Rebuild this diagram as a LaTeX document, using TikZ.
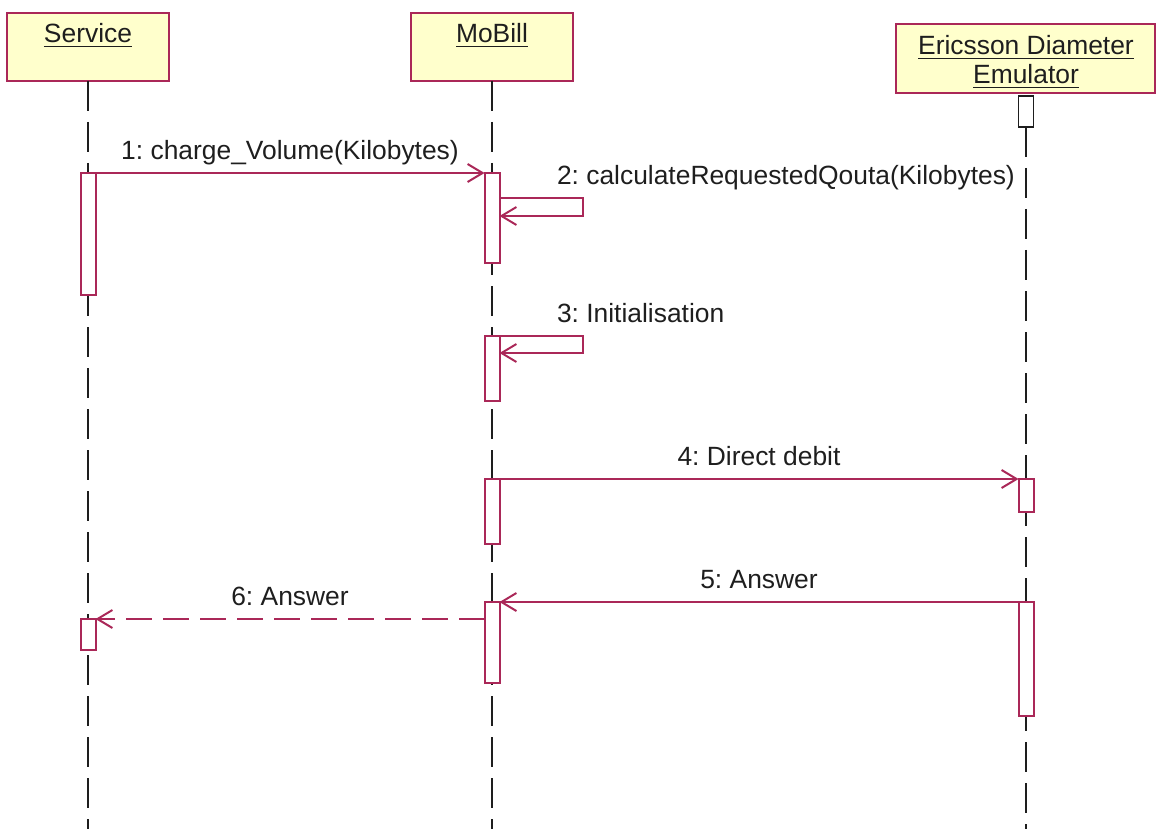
\documentclass[tikz,border=0pt]{standalone}
\usepackage{fontspec}
\setmainfont{Liberation Sans}
\usetikzlibrary{arrows.meta}
\definecolor{umlline}{RGB}{170,40,88}
\definecolor{umlfill}{RGB}{255,255,204}
\definecolor{ink}{RGB}{30,30,30}
\frenchspacing
\begin{document}
\begin{tikzpicture}[x=1pt,y=-1pt,
  every node/.style={font=\fontsize{26.4}{29}\selectfont, text=ink, inner sep=0pt, outer sep=0pt},
  objbox/.style={draw=umlline, fill=umlfill, line width=2pt, anchor=north west},
  life/.style={draw=ink, line width=1.8pt, dash pattern=on 30pt off 11pt},
  act/.style={draw=umlline, fill=white, line width=2pt, minimum width=15pt, anchor=north},
  msg/.style={draw=umlline, line width=2pt, -{Straight Barb[length=15pt,width=18pt]}},
  reply/.style={msg, dash pattern=on 26pt off 11pt},
  lbl/.style={anchor=base},
  uline/.style={draw=ink, line width=1.6pt}]
\useasboundingbox (0,0) rectangle (1157,829);

% object headers
\node[objbox, minimum width=162pt, minimum height=68pt] (svc) at (7,13) {};
\node[objbox, minimum width=162pt, minimum height=68pt] (mob) at (411,13) {};
\node[objbox, minimum width=259pt, minimum height=69pt] (emu) at (896,24) {};

\node[anchor=base] (svct) at (88,43) {Service};
\node[anchor=base] (mobt) at (492,43) {MoBill};
\node[anchor=base] (emut1) at (1026,55) {Ericsson Diameter\ };
\node[anchor=base] (emut2) at (1026,84) {Emulator};
\foreach \t in {svct,mobt,emut1,emut2}
  \draw[uline] ([yshift=-3.5pt]\t.base west) -- ([yshift=-3.5pt]\t.base east);

% creation box under the emulator header
\node[draw=ink, fill=white, line width=1.8pt, minimum width=15pt, minimum height=31pt, anchor=north] (emu0) at (1026,96) {};

% lifelines
\draw[life] (88,81) -- (88,829);
\draw[life] (492,81) -- (492,829);
\draw[life] (emu0.south) -- (1026,829);

% activation bars
\node[act, minimum height=122pt] (s1) at (88,173) {};
\node[act, minimum height=31pt]  (s6) at (88,619) {};
\node[act, minimum height=90pt]  (m1) at (492,173) {};
\node[act, minimum height=65pt]  (m3) at (492,336) {};
\node[act, minimum height=65pt]  (m4) at (492,479) {};
\node[act, minimum height=81pt]  (m5) at (492,602) {};
\node[act, minimum height=33pt]  (e4) at (1026,479) {};
\node[act, minimum height=114pt] (e5) at (1026,602) {};

% self-call corners
\coordinate (c2a) at (583,198);
\coordinate (c2b) at (583,216);
\coordinate (c3a) at (583,336);
\coordinate (c3b) at (583,353);

% messages
\draw[msg] (s1.north east) -- (m1.north west);
\draw[msg] (m1.east |- c2a) -- (c2a) -- (c2b) -- (m1.east |- c2b);
\draw[msg] (m3.north east) -- (c3a) -- (c3b) -- (m3.east |- c3b);
\draw[msg] (m4.north east) -- (e4.north west);
\draw[msg] (e5.north west) -- (m5.north east);
\draw[reply] (m5.west |- s6.north) -- (s6.north east);

% message labels
\node[lbl] (l1) at (290,159.5) {1: charge\_Volume(Kilobytes)};
\node[lbl, anchor=base west] (l2) at (557,185) {2: calculateRequestedQouta(Kilobytes)};
\node[lbl, anchor=base west] (l3) at (557,322.5) {3: Initialisation};
\node[lbl] (l4) at (759,465) {4: Direct debit};
\node[lbl] (l5) at (759,588) {5: Answer};
\node[lbl] (l6) at (290,605) {6: Answer};
\end{tikzpicture}
\end{document}
